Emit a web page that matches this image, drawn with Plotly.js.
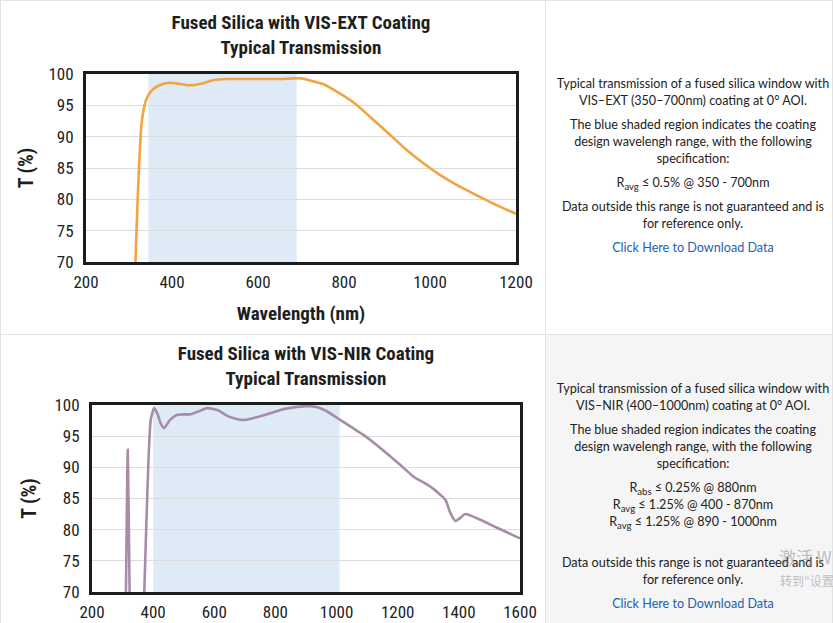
<!DOCTYPE html>
<html>
<head>
<meta charset="utf-8">
<script src="https://cdn.plot.ly/plotly-3.0.1.min.js"></script>
<style>
  html, body { margin:0; padding:0; }
  body { width:833px; height:623px; overflow:hidden; position:relative; background:#fff; }
  .chart { position:absolute; left:0; width:545px; }
  .panel { position:absolute; left:546px; width:294px; font-family: Lato, "Open Sans", sans-serif; font-size:12.6px; color:#222; text-align:center; line-height:17px; }
  .panel p { margin:0 0 7px 0; }
  .panel a { color:#1f5fae; text-decoration:none; }
  .panel sub { font-size:9.5px; vertical-align:-3px; line-height:0; }
  .line { position:absolute; background:#e2e2e2; }
  .wm { position:absolute; color:rgba(140,140,140,0.55); font-family:"Noto Sans CJK SC", sans-serif; white-space:nowrap; }
</style>
</head>
<body>
<div style="position:absolute;left:546px;top:335px;width:287px;height:288px;background:#f5f5f5;"></div>
<div id="c1" class="chart" style="top:0;height:334px;"></div>
<div id="c2" class="chart" style="top:334px;height:289px;"></div>

<div class="line" style="left:0;top:0;width:833px;height:1px;"></div>
<div class="line" style="left:0;top:0;width:1px;height:623px;"></div>
<div class="line" style="left:545px;top:0;width:1px;height:623px;"></div>
<div class="line" style="left:0;top:334px;width:833px;height:1px;"></div>
<div class="line" style="left:832px;top:0;width:1px;height:623px;"></div>

<div class="panel" style="top:75px;">
  <p>Typical transmission of a fused silica window with<br>VIS–EXT (350–700nm) coating at 0° AOI.</p>
  <p>The blue shaded region indicates the coating<br>design wavelengh range, with the following<br>specification:</p>
  <p>R<sub>avg</sub> ≤ 0.5% @ 350 - 700nm</p>
  <p>Data outside this range is not guaranteed and is<br>for reference only.</p>
  <p><a href="#">Click Here to Download Data</a></p>
</div>

<div class="panel" style="top:380px;">
  <p>Typical transmission of a fused silica window with<br>VIS–NIR (400–1000nm) coating at 0° AOI.</p>
  <p>The blue shaded region indicates the coating<br>design wavelengh range, with the following<br>specification:</p>
  <p>R<sub>abs</sub> ≤ 0.25% @ 880nm<br>R<sub>avg</sub> ≤ 1.25% @ 400 - 870nm<br>R<sub>avg</sub> ≤ 1.25% @ 890 - 1000nm<br>&nbsp;</p>
  <p>Data outside this range is not guaranteed and is<br>for reference only.</p>
  <p><a href="#">Click Here to Download Data</a></p>
</div>

<div class="wm" style="left:779px;top:544px;font-size:17px;">激活 Windows</div>
<div class="wm" style="left:780px;top:572px;font-size:12px;">转到"设置"以激活 Windows。</div>

<script>
// ---------- data ----------
const wavelength1 = [313, 315, 321, 328.5, 334, 340, 352, 371, 394, 410, 441, 470, 495, 530, 573, 620, 650, 681, 700, 720, 751, 790, 829, 868, 907, 945, 984, 1023, 1062, 1101, 1139, 1170, 1200];
const transmission1 = [65, 70, 81.5, 91.6, 94.3, 95.9, 97.3, 98.2, 98.6, 98.5, 98.2, 98.5, 99.0, 99.2, 99.2, 99.2, 99.2, 99.3, 99.3, 99.0, 98.4, 96.9, 95.1, 92.7, 90.3, 87.9, 85.8, 83.9, 82.3, 80.9, 79.6, 78.6, 77.7];
const band1 = [345, 690];
const xTicks1 = [200, 400, 600, 800, 1000, 1200];

const wavelength2 = [305, 311, 317, 323, 330, 360, 366, 371, 384, 392, 403, 414, 425, 436, 455, 477, 500, 521, 550, 576, 610, 641, 670, 695, 720, 750, 785, 816, 845, 870, 914, 940, 968, 1012, 1050, 1088, 1143, 1208, 1252, 1307, 1356, 1372, 1389, 1405, 1421, 1470, 1525, 1600];
const transmission2 = [50, 70, 92.8, 70, 50, 45, 60, 70, 90.2, 97.6, 99.5, 98.6, 97.0, 96.3, 97.6, 98.4, 98.5, 98.5, 99.0, 99.5, 99.2, 98.3, 97.8, 97.6, 97.8, 98.2, 98.7, 99.2, 99.5, 99.7, 99.8, 99.6, 99.0, 97.6, 96.4, 95.2, 93.1, 90.4, 88.5, 86.9, 84.8, 82.7, 81.4, 81.9, 82.5, 81.6, 80.3, 78.6];
const band2 = [400, 1010];
const xTicks2 = [200, 400, 600, 800, 1000, 1200, 1400, 1600];

const yTicks = [70, 75, 80, 85, 90, 95, 100];

// ---------- styling ----------
const F = 'Roboto Condensed, Roboto, sans-serif';
const frame = '#1c1c1c';

function makeLayout(opts) {
  return {
    width: 545, height: opts.height,
    margin: opts.margin,
    paper_bgcolor: 'rgba(0,0,0,0)',
    plot_bgcolor: '#ffffff',
    showlegend: false,
    title: {
      text: opts.title,
      font: { family: F, size: 19, color: '#1e1e1e' },
      x: 0.5, xref: 'paper', xanchor: 'center',
      y: opts.titleY, yref: 'container', yanchor: 'top'
    },
    xaxis: {
      range: opts.xrange, tickvals: opts.xticks, ticktext: opts.xticks.map(String),
      showgrid: false, zeroline: false,
      showline: true, mirror: true, linecolor: frame, linewidth: 3,
      ticks: 'outside', ticklen: 3, tickcolor: 'rgba(0,0,0,0)',
      tickfont: { family: F, size: 17, color: '#222' },
      title: opts.xtitle ? { text: '<b>Wavelength (nm)</b>', font: { family: F, size: 19, color: '#1e1e1e' }, standoff: 16 } : { text: '' }
    },
    yaxis: {
      range: [70, 100], tickvals: yTicks, ticktext: yTicks.map(String),
      showgrid: true, gridcolor: '#dcdcdc', gridwidth: 1, zeroline: false,
      showline: true, mirror: true, linecolor: frame, linewidth: 3,
      ticks: 'outside', ticklen: 6, tickcolor: 'rgba(0,0,0,0)',
      tickfont: { family: F, size: 17, color: '#222' },
      title: { text: '<b>T (%)</b>', font: { family: F, size: 20, color: '#1e1e1e' }, standoff: opts.ystandoff }
    },
    shapes: [{
      type: 'rect', xref: 'x', yref: 'paper',
      x0: opts.band[0], x1: opts.band[1], y0: 0, y1: 1,
      fillcolor: '#deeaf6', line: { width: 0 }, layer: 'below'
    }]
  };
}

Plotly.newPlot('c1', [{
  x: wavelength1, y: transmission1, type: 'scatter', mode: 'lines',
  line: { color: '#f2a443', width: 2.6, shape: 'spline', smoothing: 0.6 },
  hoverinfo: 'skip'
}], makeLayout({
  height: 334, margin: { l: 86, r: 29, t: 74, b: 72, pad: 0 },
  title: '<b>Fused Silica with VIS-EXT Coating</b><br><b>Typical Transmission</b>',
  titleY: 0.912, xrange: [200, 1200], xticks: xTicks1, band: band1, xtitle: true, ystandoff: 10
}), { displayModeBar: false, staticPlot: true });

Plotly.newPlot('c2', [{
  x: wavelength2, y: transmission2, type: 'scatter', mode: 'lines',
  line: { color: '#a68ca7', width: 2.6, shape: 'spline', smoothing: 0.5 },
  hoverinfo: 'skip'
}], makeLayout({
  height: 289, margin: { l: 92, r: 25, t: 71, b: 31, pad: 0 },
  title: '<b>Fused Silica with VIS-NIR Coating</b><br><b>Typical Transmission</b>',
  titleY: 0.909, xrange: [200, 1600], xticks: xTicks2, band: band2, xtitle: false, ystandoff: 13
}), { displayModeBar: false, staticPlot: true });
</script>
</body>
</html>
